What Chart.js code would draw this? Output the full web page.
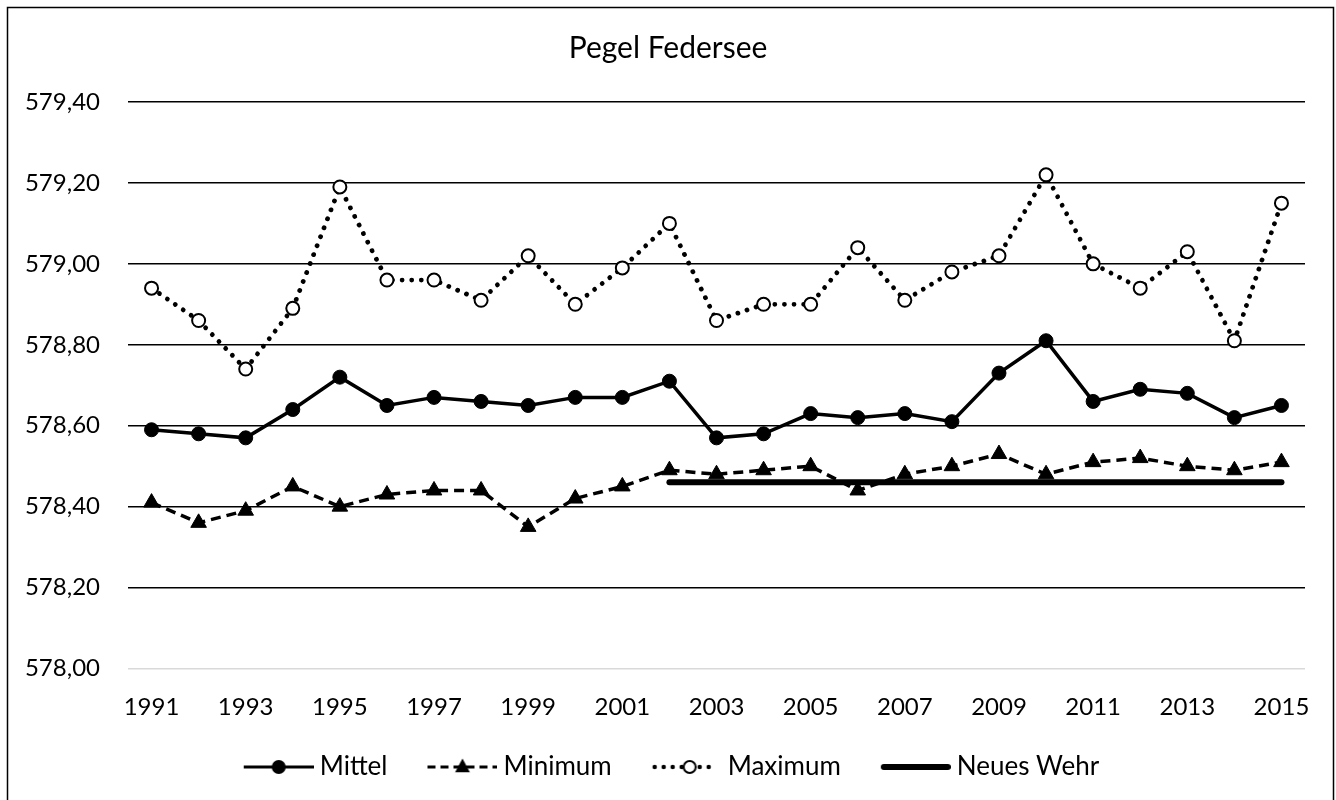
<!DOCTYPE html>
<html>
<head>
<meta charset="utf-8">
<script src="https://cdn.jsdelivr.net/npm/chart.js@4.4.1/dist/chart.umd.min.js"></script>
<style>
  html, body { margin: 0; padding: 0; background: #fff; }
  #wrap { width: 1336px; height: 800px; }
</style>
</head>
<body>
<div id="wrap"><canvas id="c" width="1336" height="800"></canvas></div>
<script>
const years = ['1991','1992','1993','1994','1995','1996','1997','1998','1999','2000','2001','2002','2003','2004','2005','2006','2007','2008','2009','2010','2011','2012','2013','2014','2015'];
const mittel = [578.59,578.58,578.57,578.64,578.72,578.65,578.67,578.66,578.65,578.67,578.67,578.71,578.57,578.58,578.63,578.62,578.63,578.61,578.73,578.81,578.66,578.69,578.68,578.62,578.65];
const minimum = [578.41,578.36,578.39,578.45,578.40,578.43,578.44,578.44,578.35,578.42,578.45,578.49,578.48,578.49,578.50,578.44,578.48,578.50,578.53,578.48,578.51,578.52,578.50,578.49,578.51];
const maximum = [578.94,578.86,578.74,578.89,579.19,578.96,578.96,578.91,579.02,578.90,578.99,579.10,578.86,578.90,578.90,579.04,578.91,578.98,579.02,579.22,579.00,578.94,579.03,578.81,579.15];
const neuesWehr = [null,null,null,null,null,null,null,null,null,null,null,578.46,578.46,578.46,578.46,578.46,578.46,578.46,578.46,578.46,578.46,578.46,578.46,578.46,578.46];
const seriesNames = ['Mittel','Minimum','Maximum','Neues Wehr'];
const yMin = 578.0, yMax = 579.4, yStep = 0.2;

const FONT = 'Lato';

// legend sample images (line + marker)
function makeSample(kind) {
  const W = 84, H = 22, off = 14, cy = H / 2;
  const cv = document.createElement('canvas');
  cv.width = W; cv.height = H;
  const g = cv.getContext('2d');
  g.strokeStyle = '#000'; g.fillStyle = '#000';
  const x0 = off, x1 = W;
  if (kind === 0) {
    g.lineWidth = 3; g.beginPath(); g.moveTo(x0, cy); g.lineTo(x1, cy); g.stroke();
    g.beginPath(); g.arc((x0 + x1) / 2, cy, 7, 0, Math.PI * 2); g.fill();
  } else if (kind === 1) {
    g.lineWidth = 3; g.setLineDash([8, 5]); g.beginPath(); g.moveTo(x0, cy); g.lineTo(x1, cy); g.stroke();
    g.setLineDash([]);
    const cx = (x0 + x1) / 2, r = 8.5;
    g.beginPath();
    g.moveTo(cx, cy - r);
    g.lineTo(cx + r * 0.866, cy + r * 0.5 + 1);
    g.lineTo(cx - r * 0.866, cy + r * 0.5 + 1);
    g.closePath(); g.fill();
  } else if (kind === 2) {
    g.lineWidth = 4.5; g.lineCap = 'round'; g.setLineDash([0.001, 9]);
    g.beginPath(); g.moveTo(x0 + 3, cy); g.lineTo(x1 - 6, cy); g.stroke();
    g.setLineDash([]);
    const cx = x0 + 38;
    g.beginPath(); g.arc(cx, cy, 6, 0, Math.PI * 2);
    g.fillStyle = '#fff'; g.fill(); g.lineWidth = 2; g.stroke();
  } else {
    g.lineWidth = 6; g.lineCap = 'round'; g.beginPath(); g.moveTo(x0 + 3, cy); g.lineTo(x1 - 3, cy); g.stroke();
  }
  return cv;
}
const samples = [0, 1, 2, 3].map(makeSample);

const framePlugin = {
  id: 'frame',
  beforeDraw(chart) {
    const ctx = chart.ctx;
    ctx.save();
    ctx.fillStyle = '#fff';
    ctx.fillRect(0, 0, chart.width, chart.height);
    ctx.strokeStyle = '#000';
    ctx.lineWidth = 1.5;
    ctx.beginPath();
    ctx.moveTo(7.5, 820); ctx.lineTo(7.5, 7.5); ctx.lineTo(1333.5, 7.5); ctx.lineTo(1333.5, 820);
    ctx.stroke();
    ctx.restore();
  }
};

new Chart(document.getElementById('c'), {
  type: 'line',
  data: {
    labels: years,
    datasets: [
      {
        label: seriesNames[0], data: mittel,
        borderColor: '#000', backgroundColor: '#000', borderWidth: 3.5,
        pointStyle: 'circle', pointRadius: 7, pointBackgroundColor: '#000', pointBorderColor: '#000', pointBorderWidth: 1,
        tension: 0, order: 1
      },
      {
        label: seriesNames[1], data: minimum,
        borderColor: '#000', backgroundColor: '#000', borderWidth: 3.5, borderDash: [10, 6],
        pointStyle: 'triangle', pointRadius: 9, pointBackgroundColor: '#000', pointBorderColor: '#000', pointBorderWidth: 1,
        tension: 0, order: 1
      },
      {
        label: seriesNames[2], data: maximum,
        borderColor: '#000', backgroundColor: '#fff', borderWidth: 4.8, borderDash: [0.001, 9.6], borderCapStyle: 'round',
        pointStyle: 'circle', pointRadius: 6.5, pointBackgroundColor: '#fff', pointBorderColor: '#000', pointBorderWidth: 2,
        tension: 0, order: 1
      },
      {
        label: seriesNames[3], data: neuesWehr,
        borderColor: '#000', backgroundColor: '#000', borderWidth: 6, borderCapStyle: 'round',
        pointRadius: 0, pointHoverRadius: 0, spanGaps: false,
        tension: 0, order: 5
      }
    ]
  },
  options: {
    responsive: false,
    animation: false,
    events: [],
    layout: { padding: { left: 0, right: 0, top: 0, bottom: 10 } },
    plugins: {
      tooltip: { enabled: false },
      title: {
        display: true, text: 'Pegel Federsee', color: '#000',
        font: { family: FONT, size: 30, weight: 'normal', lineHeight: 1.2 },
        padding: { top: 30, bottom: 36 }
      },
      legend: {
        display: true, position: 'bottom', align: 'center',
        labels: {
          color: '#000',
          font: { family: FONT, size: 26, lineHeight: 1.2 },
          usePointStyle: true, pointStyleWidth: 70, boxHeight: 25,
          padding: 33,
          generateLabels(chart) {
            return chart.data.datasets.map((ds, i) => ({
              text: ds.label, datasetIndex: i, hidden: false,
              pointStyle: samples[i], fillStyle: '#000', strokeStyle: '#000',
              lineWidth: 0, fontColor: '#000'
            }));
          }
        }
      }
    },
    scales: {
      x: {
        type: 'category', offset: true,
        afterFit(scale) { scale.height = 52.5; },
        grid: { display: false, drawTicks: false },
        border: { display: false },
        ticks: {
          autoSkip: false, maxRotation: 0, minRotation: 0, padding: 24, color: '#000',
          font: { family: FONT, size: 24, lineHeight: 1.2 },
          callback: function (v, i) { return i % 2 === 0 ? years[i] : ''; }
        }
      },
      y: {
        min: yMin, max: yMax,
        afterFit(scale) { scale.width = 128; },
        grid: {
          drawTicks: false, lineWidth: 1.5,
          color: (c) => (c.tick && Math.abs(c.tick.value - yMin) < 1e-6) ? '#d9d9d9' : '#000'
        },
        border: { display: false },
        ticks: {
          stepSize: yStep, padding: 28, color: '#000',
          font: { family: FONT, size: 24, lineHeight: 1.2 },
          callback: (v) => Number(v).toFixed(2).replace('.', ',')
        }
      },
      yRight: {
        position: 'right', display: true,
        afterFit(scale) { scale.width = 31; },
        grid: { display: false, drawOnChartArea: false, drawTicks: false },
        border: { display: false },
        ticks: { display: false }
      }
    }
  },
  plugins: [framePlugin]
});
</script>
</body>
</html>
